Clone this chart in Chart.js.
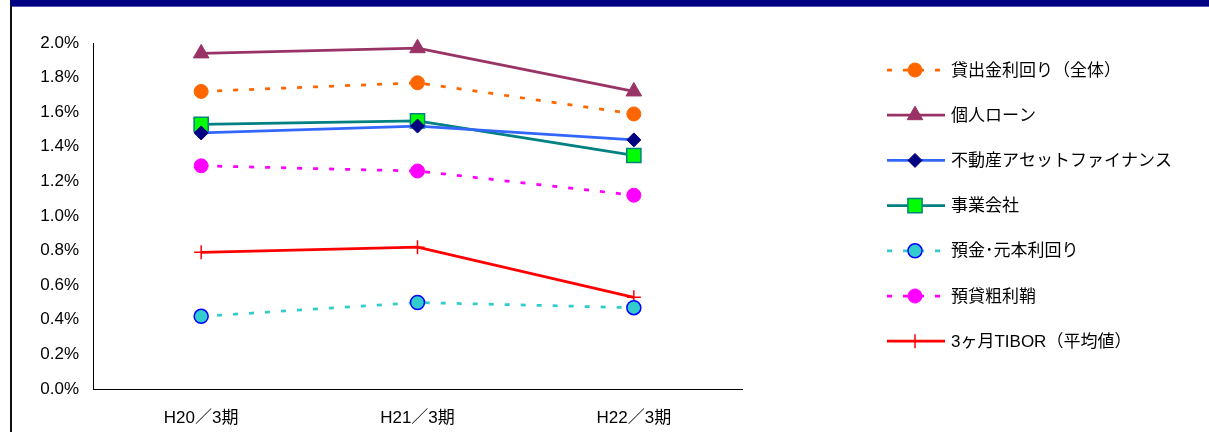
<!DOCTYPE html>
<html>
<head>
<meta charset="utf-8">
<script src="https://cdn.jsdelivr.net/npm/chart.js@4/dist/chart.umd.min.js"></script>
<style>
  html, body { margin: 0; padding: 0; background: #fff; }
  #wrap { position: relative; width: 1209px; height: 432px; overflow: hidden; }
  #c { position: absolute; left: 0; top: 0; }
  .bar-top { position: absolute; left: 10px; top: 0; width: 1199px; height: 6px; background: #000080; }
  .bar-top-edge { position: absolute; left: 10px; top: 6px; width: 1199px; height: 1px; background: #5858b8; }
  .bar-left { position: absolute; left: 10px; top: 6px; width: 2px; height: 426px; background: #111; }
</style>
</head>
<body>
<div id="wrap">
  <canvas id="c" width="1209" height="432"></canvas>
  <div class="bar-top"></div>
  <div class="bar-top-edge"></div>
  <div class="bar-left"></div>
</div>
<script>
const categories = ['H20／3期', 'H21／3期', 'H22／3期']
const yTicks = [0, 0.2, 0.4, 0.6, 0.8, 1.0, 1.2, 1.4, 1.6, 1.8, 2.0]

// 利回り・利鞘 (%)
const lendingYield = [1.72, 1.77, 1.59]   // 貸出金利回り(全体)
const personalLoan = [1.94, 1.97, 1.72]   // 個人ローン
const realEstate = [1.48, 1.52, 1.44]     // 不動産アセットファイナンス
const corporate = [1.53, 1.55, 1.35]      // 事業会社
const depositCost = [0.42, 0.50, 0.47]    // 預金･元本利回り
const grossSpread = [1.29, 1.26, 1.12]    // 預貸粗利鞘
const tibor3m = [0.79, 0.82, 0.53]        // 3ヶ月TIBOR(平均値)

const FONT = "'Liberation Sans', 'Noto Sans CJK JP', sans-serif"

function series(label, data, line, style) {
	return Object.assign({
		label: label,
		data: data,
		borderColor: line,
		borderWidth: 2.75,
		borderDash: [],
		pointBackgroundColor: line,
		pointBorderColor: line,
		pointBorderWidth: 1,
		pointRadius: 7,
		pointStyle: 'circle',
		tension: 0,
		clip: false
	}, style)
}

// legend drawn at the right, line sample with the marker in the middle
const sideLegend = {
	id: 'sideLegend',
	afterDraw(chart) {
		const ctx = chart.ctx
		chart.data.datasets.forEach((ds, i) => {
			const y = 70 + i * 45.2
			ctx.save()
			ctx.strokeStyle = ds.borderColor
			ctx.lineWidth = ds.borderWidth
			ctx.setLineDash(ds.borderDash)
			ctx.beginPath()
			ctx.moveTo(887, y)
			ctx.lineTo(945, y)
			ctx.stroke()
			ctx.setLineDash([])
			ctx.fillStyle = ds.pointBackgroundColor
			ctx.strokeStyle = ds.pointBorderColor
			ctx.lineWidth = ds.pointBorderWidth
			Chart.helpers.drawPoint(ctx, {
				pointStyle: ds.pointStyle,
				radius: ds.pointRadius,
				borderWidth: ds.pointBorderWidth,
				rotation: 0
			}, 915, y)
			ctx.fillStyle = '#000'
			ctx.font = '17px ' + FONT
			ctx.textBaseline = 'middle'
			ctx.textAlign = 'left'
			ctx.fillText(ds.label, 951, y + 1)
			ctx.restore()
		})
	}
}

new Chart(document.getElementById('c').getContext('2d'), {
	type: 'line',
	data: {
		labels: categories,
		datasets: [
			series('貸出金利回り（全体）', lendingYield, '#FF6600', { borderDash: [5, 11] }),
			series('個人ローン', personalLoan, '#993366', { pointStyle: 'triangle', pointRadius: 9 }),
			series('不動産アセットファイナンス', realEstate, '#3366FF', { pointStyle: 'rectRot', pointRadius: 7, pointBackgroundColor: '#000080', pointBorderColor: '#000080' }),
			series('事業会社', corporate, '#008080', { pointStyle: 'rect', pointRadius: 10, pointBackgroundColor: '#00FF00', pointBorderColor: '#008080', pointBorderWidth: 1.5 }),
			series('預金･元本利回り', depositCost, '#33CCCC', { borderDash: [5, 11], pointBorderColor: '#0000FF', pointBorderWidth: 1.5 }),
			series('預貸粗利鞘', grossSpread, '#FF00FF', { borderDash: [5, 11] }),
			series('3ヶ月TIBOR（平均値）', tibor3m, '#FF0000', { pointStyle: 'cross', pointRadius: 7, pointBorderWidth: 1.5 })
		]
	},
	options: {
		responsive: false,
		devicePixelRatio: 1,
		animation: false,
		layout: { padding: { top: 43, right: 467, bottom: 0, left: 0 } },
		plugins: { legend: { display: false }, tooltip: { enabled: false } },
		scales: {
			x: {
				type: 'category',
				offset: true,
				grid: { display: false, drawTicks: false },
				border: { display: true, color: '#000', width: 1 },
				ticks: { color: '#000', font: { size: 17, family: FONT }, padding: 19, maxRotation: 0 },
				afterFit: s => { s.height = 43 }
			},
			y: {
				min: 0,
				max: 2,
				grid: { display: false, drawTicks: false },
				border: { display: true, color: '#000', width: 1 },
				afterBuildTicks: s => { s.ticks = yTicks.map(v => ({ value: v })) },
				ticks: { color: '#000', font: { size: 17, family: FONT }, padding: 14, callback: v => v.toFixed(1) + '%' },
				afterFit: s => { s.width = 93 }
			}
		}
	},
	plugins: [sideLegend]
})
</script>
</body>
</html>
